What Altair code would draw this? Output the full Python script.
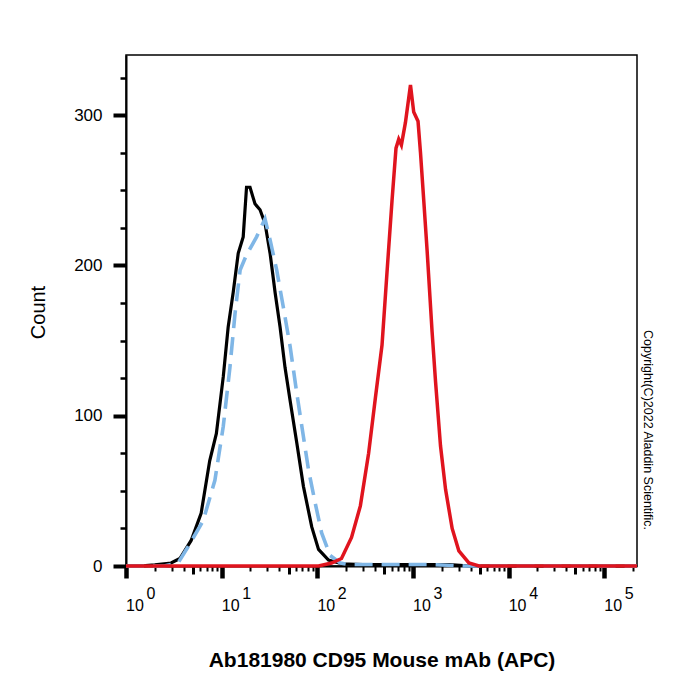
import altair as alt
import pandas as pd

# ---------------- data ----------------
black_x = [1, 1.6, 2.0, 2.96, 3.66, 4.8, 6.1, 7.5, 8.8, 10.4, 11.7, 13.2, 14.9, 16.8,
           18.2, 19.8, 22.3, 25.2, 28.4, 32.1, 36.2, 40.8, 46.0, 52.0, 61, 71.6, 87.5,
           103, 131, 180, 300, 800, 2400, 4000, 220000]
black_y = [0, 0.3, 0.7, 2, 5, 17, 35, 70, 88, 126, 159, 182, 208, 219,
           252, 252, 241, 237, 228, 208, 182, 159, 132, 110, 82, 53, 26,
           11, 4, 1.5, 1, 1, 1, 0, 0]

blue_x = [1, 2.5, 3.5, 4.47, 6.4, 8.5, 10.4, 12.2, 13.8, 15.6, 18.2, 23.2, 28.4, 32.1,
          37.6, 44.2, 52, 61, 68.9, 80.9, 95, 111, 136, 174, 212, 400, 1500, 3500, 220000]
blue_y = [0, 0, 2, 13, 30, 57, 93, 132, 168, 197, 207, 219, 231, 217,
          197, 172, 146, 115, 93, 64, 42, 22, 7, 2, 1, 1, 1, 0, 0]

red_x = [1, 103, 141, 179, 228, 282, 344, 405, 475, 535, 604, 665, 710, 757, 834, 889,
         942, 1019, 1130, 1199, 1298, 1406, 1585, 1721, 1941, 2192, 2570, 3020, 3845,
         4896, 220000]
red_y = [0, 0, 2, 5, 19, 40, 75, 112, 147, 195, 243, 278, 284, 280, 295, 308,
         320, 302, 296, 275, 243, 210, 156, 123, 80, 51, 25, 10, 2,
         0, 0]

decades = [1, 10, 100, 1000, 10000, 100000]
exponents = ["0", "1", "2", "3", "4", "5"]
mid_ticks = [5, 50, 500, 5000, 50000]
minor_ticks = [m * d for d in [1, 10, 100, 1000, 10000, 100000] for m in [2, 3, 4, 6, 7, 8, 9]
               if m * d <= 200000]
y_major = [0, 100, 200, 300]
y_minor = [25, 50, 75, 125, 150, 175, 225, 250, 275, 325]

x_title = "Ab181980 CD95 Mouse mAb (APC)"
y_title = "Count"
copyright_text = "Copyright(C)2022 Aladdin Scientific."

W, H = 511, 511
FONT = "Liberation Sans"

xscale = alt.Scale(type="log", domain=[1, 220000])
yscale = alt.Scale(domain=[0, 340], nice=False, zero=False)

df_black = pd.DataFrame({"x": black_x, "y": black_y})
df_blue = pd.DataFrame({"x": blue_x, "y": blue_y})
df_red = pd.DataFrame({"x": red_x, "y": red_y})
df_lab = pd.DataFrame({"x": decades, "e": exponents, "b": ["10"] * len(decades)})
df_copy = pd.DataFrame({"t": [copyright_text]})

black = alt.Chart(df_black).mark_line(color="#000000", strokeWidth=3.2).encode(
    x=alt.X("x:Q", scale=xscale,
            axis=alt.Axis(orient="bottom", values=decades, tickSize=12, tickWidth=4.5,
                          tickColor="black", labels=False, domain=True, domainColor="black",
                          domainWidth=2, grid=False, title=x_title, titleFont=FONT,
                          titleFontSize=21, titleFontWeight="bold", titleColor="black",
                          titleY=94, titleBaseline="middle")),
    y=alt.Y("y:Q", scale=yscale,
            axis=alt.Axis(orient="left", values=y_major, tickSize=13, tickWidth=4,
                          tickColor="black", labelFont=FONT, labelFontSize=17,
                          labelColor="black", labelPadding=11, domain=True,
                          domainColor="black", domainWidth=2, grid=False,
                          title=y_title, titleFont=FONT, titleFontSize=20,
                          titleFontWeight="normal", titleColor="black",
                          titleX=-88, titleY=257, titleAngle=270, titleBaseline="middle")),
)

blue = alt.Chart(df_blue).mark_line(color="#7fb6e6", strokeWidth=3.6, strokeDash=[18, 9]).encode(
    x=alt.X("x:Q", scale=xscale,
            axis=alt.Axis(orient="bottom", values=mid_ticks, tickSize=8, tickWidth=3,
                          tickColor="black", labels=False, domain=False, grid=False,
                          title=None)),
    y=alt.Y("y:Q", scale=yscale,
            axis=alt.Axis(orient="left", values=y_minor, tickSize=6, tickWidth=2.5,
                          tickColor="black", labels=False, domain=False, grid=False,
                          title=None)),
)

red = alt.Chart(df_red).mark_line(color="#e0141e", strokeWidth=3.5).encode(
    x=alt.X("x:Q", scale=xscale,
            axis=alt.Axis(orient="bottom", values=minor_ticks, tickSize=5, tickWidth=2,
                          tickColor="black", labels=False, domain=False, grid=False,
                          title=None)),
    y=alt.Y("y:Q", scale=yscale, axis=None),
)

base_lab = alt.Chart(df_lab).mark_text(font=FONT, fontSize=16, color="black",
                                       align="center", baseline="middle", dx=9).encode(
    x=alt.X("x:Q", scale=xscale, axis=None),
    y=alt.value(H + 40),
    text="b:N",
)
exp_lab = alt.Chart(df_lab).mark_text(font=FONT, fontSize=16, color="black",
                                      align="center", baseline="middle", dx=25).encode(
    x=alt.X("x:Q", scale=xscale, axis=None),
    y=alt.value(H + 28),
    text="e:N",
)

copy = alt.Chart(df_copy).mark_text(font=FONT, fontSize=12.5, color="black", angle=90,
                                    align="center", baseline="middle").encode(
    x=alt.value(W + 11),
    y=alt.value(375),
    text="t:N",
)

chart = alt.layer(black, blue, red, base_lab, exp_lab, copy).resolve_axis(
    x="independent", y="independent"
).properties(
    width=W, height=H,
    autosize=alt.AutoSizeParams(type="none"),
    padding={"left": 126, "top": 55, "right": 63, "bottom": 134},
    background="white",
).configure_view(stroke="black", strokeWidth=1.5)

chart.save("out.html", embed_options={"renderer": "svg", "actions": False})
